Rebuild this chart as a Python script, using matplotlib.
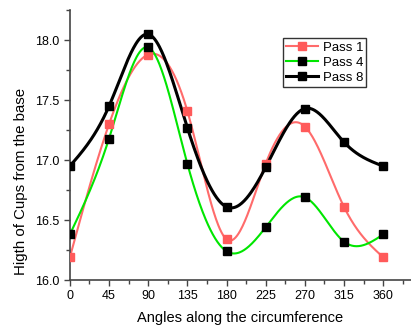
import numpy as np
import matplotlib
matplotlib.use("Agg")
import matplotlib.pyplot as plt
from matplotlib.ticker import MultipleLocator

plt.rcParams['font.family'] = ['Liberation Sans', 'DejaVu Sans']

# data
angles = [0, 45, 90, 135, 180, 225, 270, 315, 360]
pass1 = [16.19, 17.30, 17.88, 17.41, 16.34, 16.97, 17.28, 16.61, 16.19]
pass4 = [16.38, 17.18, 17.94, 16.97, 16.24, 16.44, 16.69, 16.32, 16.38]
pass8 = [16.95, 17.45, 18.05, 17.27, 16.61, 16.94, 17.43, 17.15, 16.95]


def spline(x, y, n=400):
    """natural cubic spline through the points"""
    x = np.asarray(x, float)
    y = np.asarray(y, float)
    k = len(x)
    h = np.diff(x)
    A = np.zeros((k, k))
    r = np.zeros(k)
    A[0, 0] = A[-1, -1] = 1
    for i in range(1, k - 1):
        A[i, i - 1] = h[i - 1]
        A[i, i] = 2 * (h[i - 1] + h[i])
        A[i, i + 1] = h[i]
        r[i] = 3 * ((y[i + 1] - y[i]) / h[i] - (y[i] - y[i - 1]) / h[i - 1])
    c = np.linalg.solve(A, r)
    b = (y[1:] - y[:-1]) / h - h * (2 * c[:-1] + c[1:]) / 3
    d = (c[1:] - c[:-1]) / (3 * h)
    xs = np.linspace(x[0], x[-1], n)
    idx = np.clip(np.searchsorted(x, xs) - 1, 0, k - 2)
    t = xs - x[idx]
    ys = y[idx] + b[idx] * t + c[idx] * t ** 2 + d[idx] * t ** 3
    return xs, ys


fig = plt.figure(figsize=(4.11, 3.27), dpi=100)
ax = fig.add_axes([0.170, 0.1437, 0.83, 0.825])

series = [
    (pass1, 'Pass 1', '#ff6b6b', '#ff5a5a', 1.5),
    (pass4, 'Pass 4', '#00e600', 'black', 1.5),
    (pass8, 'Pass 8', 'black', 'black', 2.2),
]
for vals, name, lc, mc, lw in series:
    xs, ys = spline(angles, vals)
    ax.plot(xs, ys, color=lc, lw=lw, zorder=2)
    ax.plot(angles, vals, ls='none', marker='s', ms=5.5, color=mc, zorder=3)
    # proxy for legend
    ax.plot([], [], color=lc, lw=lw, marker='s', ms=5.5, mfc=mc, mec=mc, label=name)

ax.set_xlim(0, 392)
ax.set_ylim(16.0, 18.25)
ax.set_xticks(angles)
ax.xaxis.set_minor_locator(MultipleLocator(22.5))
ax.yaxis.set_major_locator(MultipleLocator(0.5))
ax.yaxis.set_minor_locator(MultipleLocator(0.25))
ax.yaxis.set_major_formatter(matplotlib.ticker.FormatStrFormatter('%.1f'))

for s in ['top', 'right']:
    ax.spines[s].set_visible(False)
for s in ['left', 'bottom']:
    ax.spines[s].set_color('#444444')
    ax.spines[s].set_linewidth(1.2)
ax.tick_params(which='major', length=4, width=1, color='#444444', labelsize=9)
ax.tick_params(which='minor', length=3, width=1, color='#444444')

ax.set_xlabel('Angles along the circumference', fontsize=10.5, labelpad=6)
ax.set_ylabel('Higth of Cups from the base', fontsize=10.8)
ax.yaxis.set_label_coords(-0.124, 0.367)

leg = ax.legend(loc='upper left', bbox_to_anchor=(0.625, 0.896), fontsize=9.5,
                frameon=True, fancybox=False, edgecolor='black',
                handlelength=2.4, handletextpad=0.35, borderpad=0.25,
                labelspacing=0.2, borderaxespad=0)
leg.get_frame().set_linewidth(1.0)

fig.savefig('out.png', dpi=100)
